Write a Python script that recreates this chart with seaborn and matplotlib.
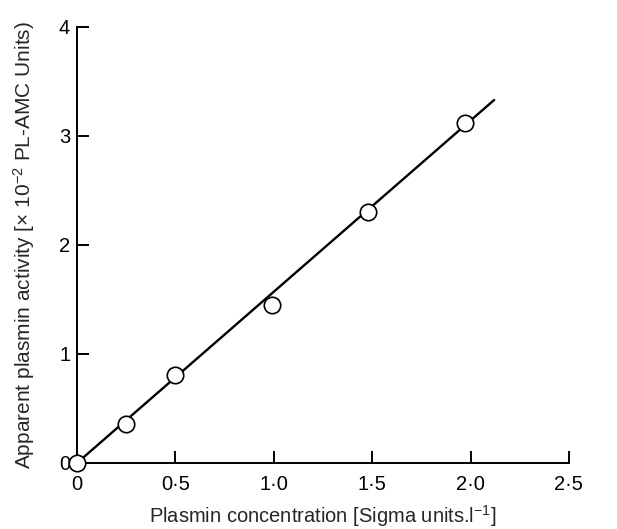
import pandas as pd
import matplotlib.pyplot as plt
import seaborn as sns

# datos
conc = [0.0, 0.25, 0.5, 0.99, 1.48, 1.97]
actividad = [0.0, 0.36, 0.81, 1.45, 2.30, 3.12]

# recta ajustada (extremos)
recta_x = [0.0, 2.12]
recta_y = [0.0, 3.33]

xticks = [0, 0.5, 1.0, 1.5, 2.0, 2.5]
xtick_labels = ['0', '0·5', '1·0', '1·5', '2·0', '2·5']
yticks = [0, 1, 2, 3, 4]

df = pd.DataFrame({'conc': conc, 'act': actividad})
df_recta = pd.DataFrame({'x': recta_x, 'y': recta_y})

sns.set_style('ticks')
plt.rcParams['font.family'] = ['Liberation Sans', 'DejaVu Sans']
plt.rcParams['mathtext.fontset'] = 'custom'
plt.rcParams['mathtext.rm'] = 'Liberation Sans'
plt.rcParams['mathtext.it'] = 'Liberation Sans'

fig = plt.figure(figsize=(6.17, 5.29), dpi=100)
ax = fig.add_axes([0.125, 0.125, 0.797, 0.824])

sns.lineplot(data=df_recta, x='x', y='y', color='black', linewidth=1.7, ax=ax)
sns.scatterplot(data=df, x='conc', y='act', s=140, facecolor='white',
                edgecolor='black', linewidth=1.2, zorder=5, clip_on=False, ax=ax)

ax.set_xlim(0, 2.5)
ax.set_ylim(0, 4)
ax.set_xticks(xticks)
ax.set_xticklabels(xtick_labels)
ax.set_yticks(yticks)
ax.tick_params(direction='in', length=8.5, width=1.4, labelsize=14.5, colors='black', pad=9)
ax.tick_params(axis='y', pad=5)

sns.despine(ax=ax)
for s in ['left', 'bottom']:
    ax.spines[s].set_linewidth(1.4)
    ax.spines[s].set_color('black')

ax.set_xlabel('Plasmin concentration [Sigma units.l$^{-1}$]', fontsize=14.5, labelpad=6)
ax.set_ylabel(r'Apparent plasmin activity [$\times$ 10$^{-2}$ PL-AMC Units)', fontsize=15, labelpad=16)

fig.savefig('out.png', dpi=100)
